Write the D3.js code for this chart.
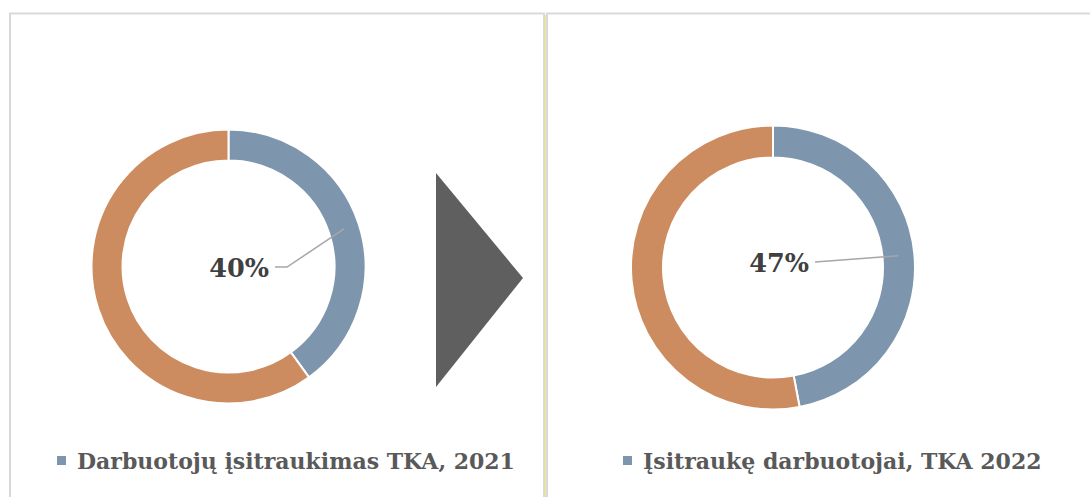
<!DOCTYPE html>
<html>
<head>
<meta charset="utf-8">
<script src="https://cdn.jsdelivr.net/npm/d3@7"></script>
<style>
  body { margin: 0; background: #fff; }
  svg { display: block; }
  text { font-family: "DejaVu Serif", serif; font-weight: bold; }
</style>
</head>
<body>
<svg id="chart" width="1090" height="497"></svg>
<script>
// data read from the two doughnuts
const years = ['2021', '2022']
const legendLabels = ['Darbuotojų įsitraukimas TKA, 2021', 'Įsitraukę darbuotojai, TKA 2022']
const engaged = [40, 47]
const rest = [60, 53]

const colors = ['#7e96ad', '#cc8c5f']

const svg = d3.select('#chart')

// panel frames
const frame = svg.append('g')
frame.append('path')
  .attr('d', 'M10,497 V13.5 H544 V497')
  .attr('fill', 'none').attr('stroke', '#d9d9d9').attr('stroke-width', 2)
frame.append('path')
  .attr('d', 'M547,497 V13.5 H1090')
  .attr('fill', 'none').attr('stroke', '#d9d9d9').attr('stroke-width', 2)
frame.append('line')
  .attr('x1', 545.5).attr('x2', 545.5).attr('y1', 15).attr('y2', 497)
  .attr('stroke', '#f2ea7a').attr('stroke-width', 1)

// layout for each panel
const layout = [
  { cx: 228.5, cy: 266.5, r: 137, inner: 106, labelX: 269, labelY: 268, legendX: 57 },
  { cx: 773, cy: 267.5, r: 142, inner: 110, labelX: 809, labelY: 263, legendX: 623 }
]

const pie = d3.pie().sort(null).value(d => d)

years.forEach((year, i) => {
  const L = layout[i]
  const g = svg.append('g').attr('transform', `translate(${L.cx},${L.cy})`)
  const arc = d3.arc().innerRadius(L.inner).outerRadius(L.r)
  const arcs = pie([engaged[i], rest[i]])

  g.selectAll('.slice')
    .data(arcs)
    .enter()
    .append('path')
    .attr('class', 'slice')
    .attr('d', arc)
    .attr('fill', (d, j) => colors[j])
    .attr('stroke', '#fff')
    .attr('stroke-width', 2)

  // leader line from label to middle of the blue slice
  const mid = d3.arc().innerRadius((L.inner + L.r) / 2).outerRadius((L.inner + L.r) / 2)
  const end = mid.centroid(arcs[0])
  const lx = L.labelX - L.cx + 6
  const ly = L.labelY - L.cy - 1
  g.append('polyline')
    .attr('points', [[lx, ly], [lx + (i === 0 ? 12 : 0), ly], end].map(p => p.join(',')).join(' '))
    .attr('fill', 'none')
    .attr('stroke', '#a6a6a6')
    .attr('stroke-width', 1.5)

  svg.append('text')
    .attr('x', L.labelX)
    .attr('y', L.labelY)
    .attr('dy', '0.35em')
    .attr('text-anchor', 'end')
    .attr('font-size', 25.5)
    .attr('fill', '#404040')
    .text(engaged[i] + '%')

  // legend
  svg.append('rect')
    .attr('x', L.legendX).attr('y', 456)
    .attr('width', 9).attr('height', 9)
    .attr('fill', colors[0])
  svg.append('text')
    .attr('x', L.legendX + 20)
    .attr('y', 469)
    .attr('font-size', 22)
    .attr('fill', '#595959')
    .text(legendLabels[i])
})

// arrow between the two panels
svg.append('path')
  .attr('d', d3.line()([[436, 173], [523, 278], [436, 387]]) + 'Z')
  .attr('fill', '#5f5f5f')
</script>
</body>
</html>
